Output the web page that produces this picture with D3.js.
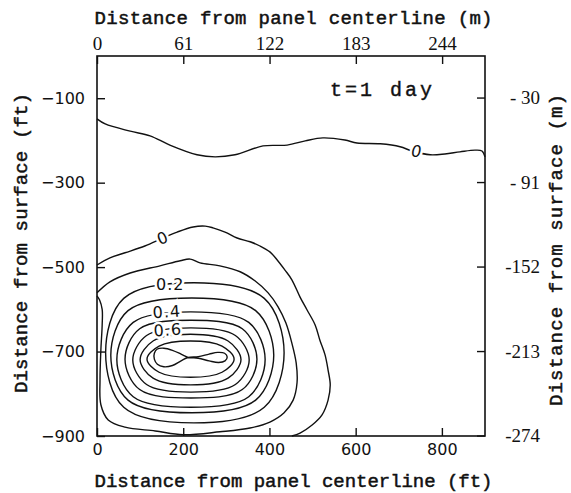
<!DOCTYPE html>
<html><head><meta charset="utf-8">
<script src="https://cdn.jsdelivr.net/npm/d3@7"></script>
<style>body{margin:0;background:#fff}svg{display:block}</style>
</head><body><svg id="c" width="571" height="493"></svg>
<script>
// ---- data (ft unless noted) ----
const xTicksFt = [0, 200, 400, 600, 800];
const xTicksM = [0, 61, 122, 183, 244];
const yTicksFt = [-100, -300, -500, -700, -900];
const yTicksM = [-30, -91, -152, -213, -274];
const yTickLabelsM = ["- 30", "- 91", "-152", "-213", "-274"];
const timeLabel = "t=1  day";

// upper zero contour (open)
const contourZeroUpper = [[0,-149],[19,-161],[77,-178],[123,-189],[169,-211],[232,-234],[274,-239],[320,-234],[385,-213],[441,-211],[483,-201],[524,-194],[575,-199],[603,-206],[657,-208],[703,-215],[731,-225],[773,-234],[807,-232],[842,-227],[877,-223],[893,-225],[900,-239]];
// lower zero contour (open, left border to bottom border)
const contourZeroLower = [[0,-495],[30,-478],[65,-466],[111,-450],[153,-431],[186,-417],[223,-405],[251,-403],[269,-407],[297,-417],[325,-431],[355,-440],[378,-450],[401,-464],[418,-483],[436,-507],[452,-530],[471,-571],[487,-601],[506,-637],[517,-673],[529,-708],[536,-744],[541,-779],[536,-815],[522,-850],[499,-874],[471,-893],[452,-900]];
// 0.1 contour (touches left border)
const contour01 = [[0,-561],[30,-535],[77,-514],[146,-497],[193,-485],[216,-481],[239,-490],[285,-497],[332,-511],[367,-533],[397,-561],[420,-594],[438,-632],[452,-680],[462,-727],[464,-774],[455,-815],[434,-845],[401,-867],[355,-881],[285,-890],[200,-897],[135,-888],[65,-879],[26,-862],[9,-826],[7,-767],[9,-696],[12,-637],[12,-600],[6,-578],[0,-568]];
// closed rings
const contour02 = [[434,-703],[388,-574],[225,-537],[62,-574],[20,-703],[62,-832],[225,-869],[388,-832]];
const contour03 = [[410,-709],[368,-603],[220,-573],[72,-603],[32,-709],[72,-815],[220,-845],[368,-815]];
const contour04 = [[390,-719],[352,-631],[218,-606],[84,-631],[46,-719],[84,-807],[218,-832],[352,-807]];
const contour05 = [[371,-718],[337,-646],[218,-626],[99,-646],[65,-718],[99,-790],[218,-810],[337,-790]];
const contour06 = [[353,-720],[321,-662],[218,-644],[115,-662],[83,-720],[115,-778],[218,-796],[321,-778]];
const contour07 = [[334,-719],[304,-675],[217,-659],[130,-675],[100,-719],[130,-763],[217,-779],[304,-763]];
const contour08 = [[318,-718],[290,-687],[217,-675],[144,-687],[116,-718],[144,-749],[217,-761],[290,-749]];
// innermost figure-eight
const contour09 = [[211,-714],[195,-706],[175,-697],[155,-692],[140,-694],[133,-704],[133,-718],[140,-730],[155,-736],[175,-733],[195,-722],[211,-714],[235,-712],[260,-706],[280,-702],[296,-704],[302,-713],[297,-722],[282,-726],[260,-722],[235,-716],[211,-714]];

const contourLabels = [
  {text:"0", x:742, y:-227, rot:0, italic:true},
  {text:"0", x:153, y:-431, rot:-22, italic:false},
  {text:"0.2", x:170, y:-540, rot:0, italic:false},
  {text:"0.4", x:162, y:-606, rot:-4, italic:false},
  {text:"0.6", x:164, y:-649, rot:-4, italic:false}
];

// ---- drawing ----
const svg = d3.select("#c");
const L = 97, R = 485, T = 56, B = 436;
const x = d3.scaleLinear([0, 900], [L, R]);
const y = d3.scaleLinear([-900, 0], [B, T]);
const xm = d3.scaleLinear([0, 900 * 0.3048], [L, R]);
const ym = d3.scaleLinear([-900 * 0.3048, 0], [B, T]);

const mono = "'Liberation Mono', 'DejaVu Sans Mono', monospace";
const serif = "'Liberation Serif', 'DejaVu Serif', serif";
const sans = "'DejaVu Sans', sans-serif";

const open = d3.line().x(d => x(d[0])).y(d => y(d[1])).curve(d3.curveCatmullRom.alpha(0.5));
const closed = d3.line().x(d => x(d[0])).y(d => y(d[1])).curve(d3.curveCatmullRomClosed.alpha(0.5));

const g = svg.append("g").attr("fill", "none").attr("stroke", "#111").attr("stroke-width", 1.4);
[contourZeroUpper, contourZeroLower, contour01, contour09].forEach(c => g.append("path").attr("d", open(c)));
[contour02, contour03, contour04, contour05, contour06, contour07, contour08].forEach(c => g.append("path").attr("d", closed(c)));

// contour labels with white halo (gaps in lines)
svg.append("g").selectAll("text").data(contourLabels).join("text")
  .attr("transform", d => `translate(${x(d.x)},${y(d.y)}) rotate(${d.rot})`)
  .attr("text-anchor", "middle").attr("dominant-baseline", "central")
  .attr("font-family", sans).attr("font-size", 16)
  .attr("font-style", d => d.italic ? "italic" : "normal")
  .attr("fill", "#111").attr("stroke", "#fff").attr("stroke-width", 5)
  .attr("paint-order", "stroke").attr("letter-spacing", 1)
  .text(d => d.text);

// axes
const axB = d3.axisBottom(x).tickValues(xTicksFt).tickSize(-8).tickPadding(8).tickFormat(d3.format("d"));
const axL = d3.axisLeft(y).tickValues(yTicksFt).tickSize(-8).tickPadding(12).tickFormat(d => "\u2212" + Math.abs(d));
const axT = d3.axisTop(xm).tickValues(xTicksM).tickSize(-8).tickPadding(6).tickFormat(d3.format("d"));
const axR = d3.axisRight(ym).tickValues(yTicksM).tickSize(-8).tickPadding(14).tickFormat((d, i) => yTickLabelsM[i]);

function style(sel, fam, size) {
  sel.select(".domain").remove();
  sel.selectAll("line").attr("stroke", "#111").attr("stroke-width", 1.4);
  sel.selectAll("text").attr("font-family", fam).attr("font-size", size).attr("fill", "#111");
}
svg.append("g").attr("transform", `translate(0,${B})`).call(axB).call(s => style(s, sans, 16));
svg.append("g").attr("transform", `translate(${L},0)`).call(axL).call(s => style(s, sans, 16));
svg.append("g").attr("transform", `translate(0,${T})`).call(axT).call(s => style(s, serif, 19));
svg.append("g").attr("transform", `translate(${R},0)`).call(axR).call(s => { style(s, serif, 19); s.selectAll("text").attr("text-anchor", "end").attr("x", 55); });

// frame
svg.append("rect").attr("x", L).attr("y", T).attr("width", R - L).attr("height", B - T)
  .attr("fill", "none").attr("stroke", "#111").attr("stroke-width", 1.6);

// titles
const titles = [
  {t:"Distance from panel centerline (m)", x:(94+493)/2, y:19, rot:0, len:398},
  {t:"Distance from panel centerline (ft)", x:(94+493)/2, y:482, rot:0, len:398},
  {t:"Distance from surface (ft)", x:22, y:243, rot:-90, len:300},
  {t:"Distance from surface (m)", x:557, y:250, rot:-90, len:312}
];
svg.append("g").selectAll("text").data(titles).join("text")
  .attr("transform", d => `translate(${d.x},${d.y}) rotate(${d.rot})`)
  .attr("text-anchor", "middle").attr("dominant-baseline", "central")
  .attr("font-family", mono).attr("font-size", 19).attr("fill", "#111")
  .attr("stroke", "#111").attr("stroke-width", 0.5)
  .attr("textLength", d => d.len).attr("lengthAdjust", "spacing")
  .text(d => d.t);

svg.append("text").attr("x", 330).attr("y", 90).attr("dominant-baseline", "central")
  .attr("font-family", mono).attr("font-size", 20).attr("fill", "#111")
  .attr("stroke", "#111").attr("stroke-width", 0.4)
  .attr("textLength", 102).attr("lengthAdjust", "spacing").text(timeLabel);
</script></body></html>
